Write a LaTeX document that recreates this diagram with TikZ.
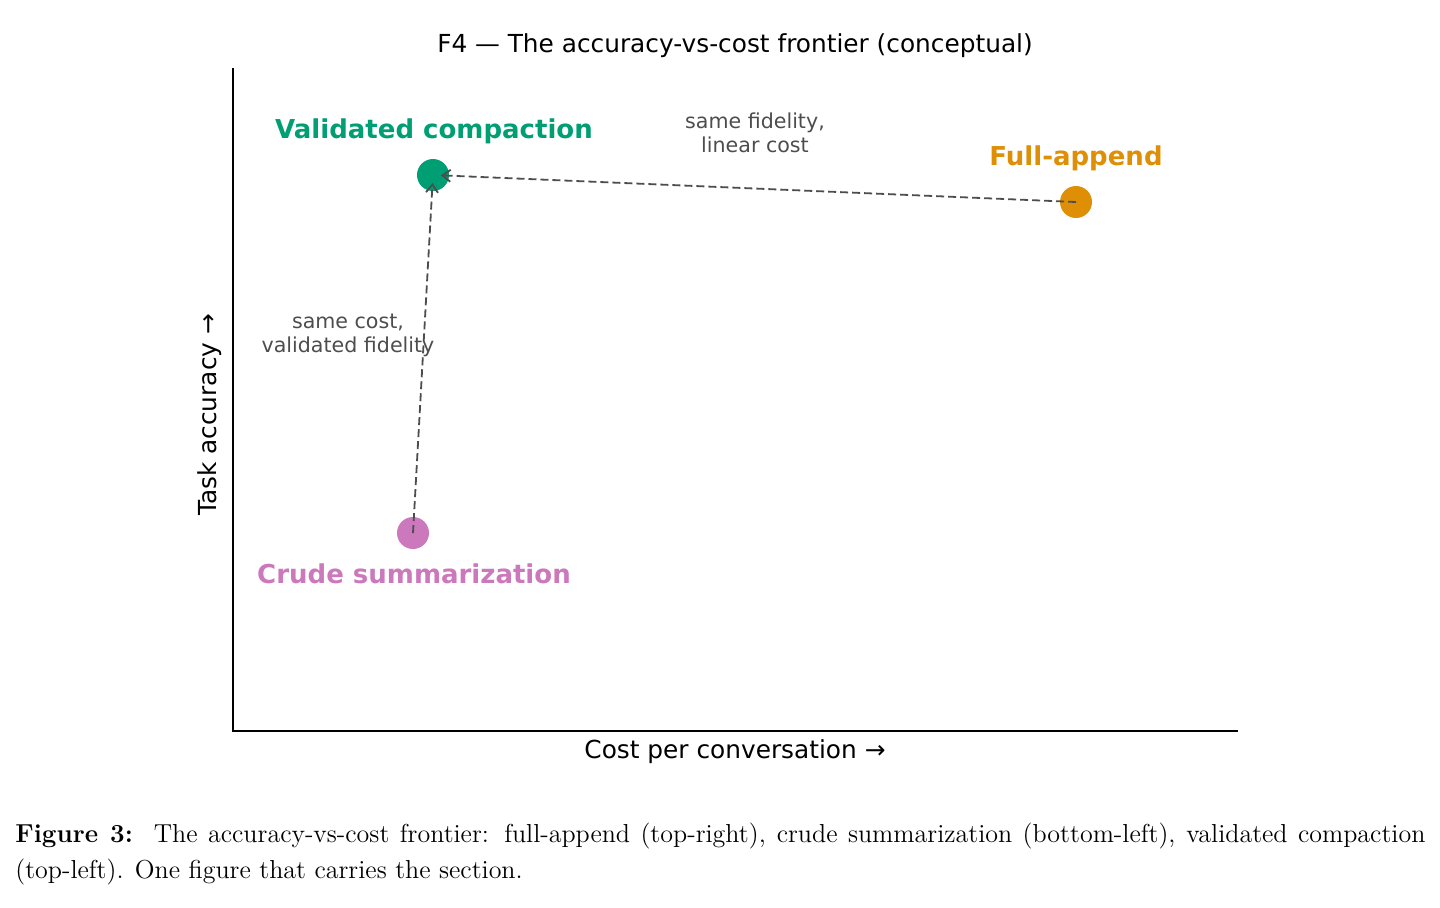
\documentclass[tikz,border=0pt]{standalone}
\usepackage{fontspec}
\newfontfamily\plotfont{DejaVu Sans}
\usetikzlibrary{arrows.meta}
\definecolor{vgreen}{HTML}{009E73}
\definecolor{forange}{HTML}{DE8F05}
\definecolor{cpink}{HTML}{CC78BC}
\definecolor{annot}{HTML}{4D4D4D}
\tikzset{
  dot/.style={circle,fill=#1,inner sep=0pt,minimum size=16pt},
  tag/.style={font=\plotfont\bfseries\fontsize{13}{15}\selectfont,text=#1},
  note/.style={font=\plotfont\fontsize{10.3}{12}\selectfont,text=annot,align=center},
  move/.style={draw=annot,line width=0.9pt,dash pattern=on 4pt off 2pt,
    shorten >=4pt,-{Straight Barb[length=4pt,width=6pt]}},
  axlabel/.style={font=\plotfont\fontsize{12.4}{14}\selectfont}
}
\begin{document}
\begin{tikzpicture}[x=0.5pt,y=-0.5pt]
\useasboundingbox (0,0) rectangle (1440,907);
% axes
\draw[thick] (233,68) -- (233,731) -- (1238,731);
\node[axlabel] (title) at (735,46) {F4 — The accuracy-vs-cost frontier (conceptual)};
\node[axlabel] (xlab) at (735,752) {Cost per conversation →};
\node[axlabel,rotate=90] (ylab) at (210,415) {Task accuracy →};
% the three regimes
\node[dot=vgreen] (valid) at (433,175) {};
\node[dot=forange] (full) at (1076,202) {};
\node[dot=cpink] (crude) at (413,533) {};
\node[tag=vgreen] (validlab) at (434,131) {Validated compaction};
\node[tag=forange] (fulllab) at (1076,158) {Full-append};
\node[tag=cpink] (crudelab) at (414,574) {Crude summarization};
% moves
\draw[move] (full.center) -- (valid.center);
\draw[move] (crude.center) -- (valid.center);
\node[note] (n1) at (755,133) {same fidelity,\\linear cost};
\node[note] (n2) at (348,335) {same cost,\\validated fidelity};
% caption
\node[anchor=north west,text width=705pt,align=justify,inner sep=0pt,
  font=\fontsize{13}{18}\selectfont] (cap) at (15,823)
  {\textbf{Figure 3:}\ \ The accuracy-vs-cost frontier: full-append (top-right), crude summarization (bottom-left), validated compaction (top-left). One figure that carries the section.};
\end{tikzpicture}
\end{document}
